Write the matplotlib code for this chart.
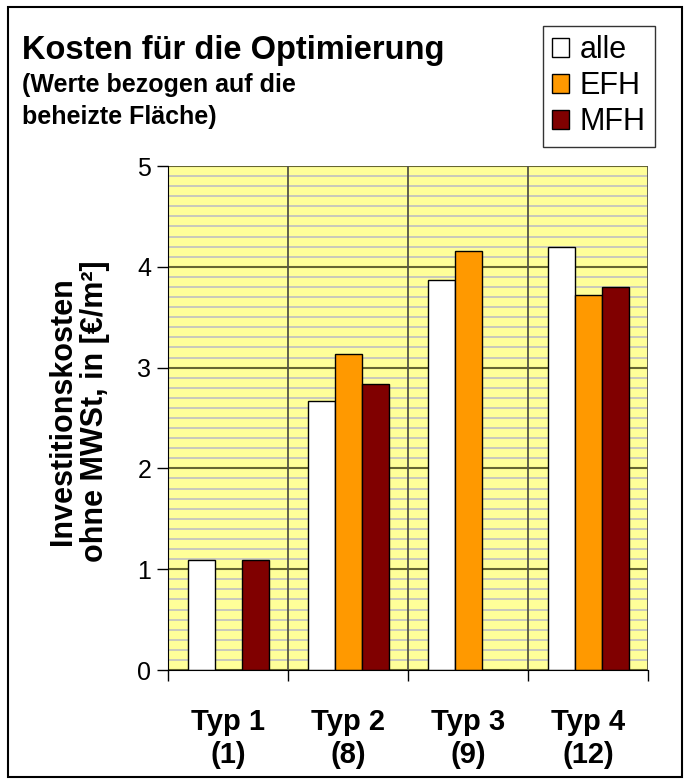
import numpy as np
import matplotlib.pyplot as plt
from matplotlib.patches import Rectangle
import matplotlib.transforms as mtransforms

# data
categories = ["Typ 1", "Typ 2", "Typ 3", "Typ 4"]
counts = ["(1)", "(8)", "(9)", "(12)"]
series_names = ["alle", "EFH", "MFH"]
alle = [1.09, 2.67, 3.87, 4.20]
efh = [0.0, 3.13, 4.16, 3.72]
mfh = [1.09, 2.84, 0.0, 3.80]
colors = ["#FFFFFF", "#FF9900", "#800000"]

plt.rcParams["font.family"] = ["Liberation Sans", "DejaVu Sans"]

W, H = 689, 783
fig = plt.figure(figsize=(W / 100, H / 100), dpi=100)
ax = fig.add_axes([168 / W, 113 / H, 480 / W, 504 / H])
ax.set_facecolor("#FFFF99")

x = np.arange(len(categories))
w = 0.225
for i, (vals, c, name) in enumerate(zip([alle, efh, mfh], colors, series_names)):
    ax.bar(x + (i - 1) * w, vals, width=w, color=c, edgecolor="black",
           linewidth=1.0, label=name, zorder=3)

ax.set_xlim(-0.5, len(categories) - 0.5)
ax.set_ylim(0, 5)

# gridlines
ax.set_yticks(np.arange(0, 5.01, 1))
ax.set_yticks(np.arange(0, 5.01, 0.1), minor=True)
ax.yaxis.grid(True, which="minor", color="#C0C0C0", linewidth=1.2, zorder=1)
ax.yaxis.grid(True, which="major", color="#666633", linewidth=1.5, zorder=2)
for b in np.arange(-0.5, len(categories), 1.0):
    ax.axvline(b, color="#555544", linewidth=1.3, zorder=2)

ax.set_xticks(np.arange(-0.5, len(categories), 1.0))
ax.set_xticklabels([])
ax.tick_params(axis="x", which="major", length=8, width=1, direction="out")
ax.tick_params(axis="y", which="major", length=8, width=1, labelsize=18, pad=4)
ax.tick_params(axis="y", which="minor", length=0)

# two-line category labels
trans = mtransforms.blended_transform_factory(ax.transData, ax.transAxes)
for xi, cat, n in zip(x, categories, counts):
    ax.text(xi, -52 / 504, cat, transform=trans, ha="center", va="center",
            fontsize=21, fontweight="bold")
    ax.text(xi, -85 / 504, n, transform=trans, ha="center", va="center",
            fontsize=21, fontweight="bold")

for s in ["top", "right"]:
    ax.spines[s].set_visible(False)
ax.spines["left"].set_zorder(4)
ax.spines["bottom"].set_zorder(4)

fig.text(79 / W, 1 - 411 / H, "Investitionskosten\nohne MWSt, in [€/m²]",
         fontsize=22, fontweight="bold", rotation=90, ha="center",
         va="center", linespacing=1.12, multialignment="center")

fig.text(22 / W, 1 - 50 / H, "Kosten für die Optimierung", fontsize=23.5,
         fontweight="bold", va="center", ha="left")
fig.text(22 / W, 1 - 85 / H, "(Werte bezogen auf die", fontsize=18,
         fontweight="bold", va="center", ha="left")
fig.text(22 / W, 1 - 117 / H, "beheizte Fläche)", fontsize=18,
         fontweight="bold", va="center", ha="left")

leg = fig.legend(loc="upper right", bbox_to_anchor=(655 / W, 1 - 26 / H),
                 fontsize=22, frameon=True, fancybox=False, edgecolor="black",
                 handlelength=0.55, handleheight=0.55, handletextpad=0.35,
                 borderpad=0.3, labelspacing=0.2, borderaxespad=0)
leg.get_frame().set_linewidth(1.0)

fig.patches.append(Rectangle((8 / W, 6 / H), 674 / W, 770 / H,
                             transform=fig.transFigure, fill=False,
                             edgecolor="black", linewidth=1.5))

fig.savefig("out.png", dpi=100)
